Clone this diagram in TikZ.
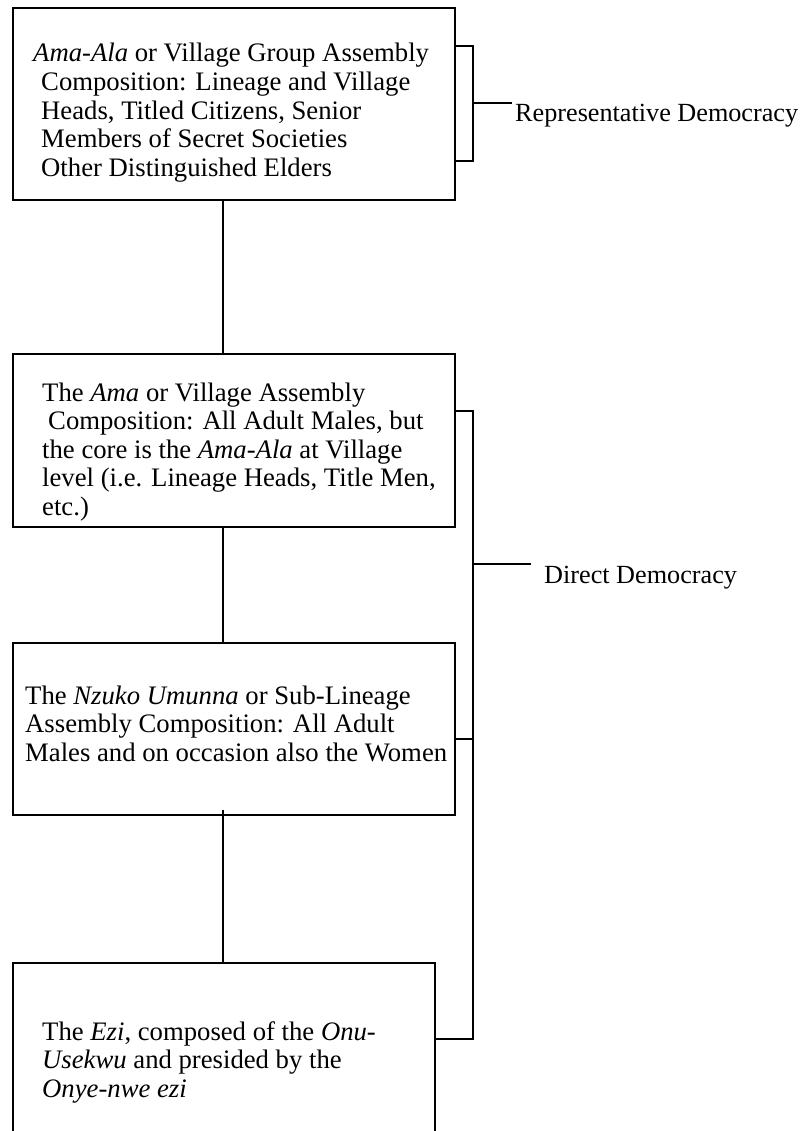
\documentclass[tikz,border=0pt]{standalone}
\usepackage{fontspec}
\setmainfont{Liberation Serif}
\usetikzlibrary{calc}
\begin{document}
\begin{tikzpicture}[x=1pt,y=-1pt,
  box/.style={draw, line width=1.6pt, rectangle, inner sep=0pt, anchor=north west},
  boxtext/.style={anchor=base west, align=left, inner sep=0pt, font=\fontsize{26.7}{28.6}\selectfont},
  sidelabel/.style={anchor=base west, inner sep=0pt, font=\fontsize{26.2}{28.6}\selectfont},
  link/.style={line width=1.5pt},
  brace/.style={line width=2.2pt}]
\clip (0,0) rectangle (809,1131);
\fill[white] (0,0) rectangle (809,1131);

% assembly boxes
\node[box, minimum width=442pt, minimum height=192pt] (b1) at (12,7) {};
\node[box, minimum width=442pt, minimum height=173pt] (b2) at (12,353) {};
\node[box, minimum width=442pt, minimum height=172pt] (b3) at (12,642) {};
\node[box, minimum width=422pt, minimum height=200pt] (b4) at (12,962) {};

% box texts (anchored on the baseline of their last line)
\node[boxtext] (t1) at (33,176.4) {\textit{Ama-Ala} or Village Group Assembly\\
  \hspace*{8pt}Composition: Lineage and Village\\
  \hspace*{8pt}Heads, Titled Citizens, Senior\\
  \hspace*{8pt}Members of Secret Societies\\
  \hspace*{8pt}Other Distinguished Elders};
\node[boxtext] (t2) at (42,515.4) {The \textit{Ama} or Village Assembly\\
  \hspace*{6pt}Composition: All Adult Males, but\\
  the core is the \textit{Ama-Ala} at Village\\
  level (i.e. Lineage Heads, Title Men,\\
  etc.)};
\node[boxtext] (t3) at (25,761.2) {The \textit{Nzuko Umunna} or Sub-Lineage\\
  Assembly Composition: All Adult\\
  Males and on occasion also the Women};
\node[boxtext] (t4) at (42,1097.2) {The \textit{Ezi}, composed of the \textit{Onu-}\\
  \textit{Usekwu} and presided by the\\
  \textit{Onye-nwe ezi}};

% side labels
\node[sidelabel] (rep) at (515,122) {Representative Democracy};
\node[sidelabel] (dir) at (544,583) {Direct Democracy};

% vertical links between the boxes
\draw[link] ($(b1.south west)+(211,0)$) -- ($(b2.north west)+(211,0)$);
\draw[link] ($(b2.south west)+(211,0)$) -- ($(b3.north west)+(211,0)$);
\draw[link] ($(b3.south west)+(211,-6)$) -- ($(b4.north west)+(211,0)$);

% bracket for the representative level
\coordinate (r top) at (473,46);
\coordinate (r bot) at (473,161);
\coordinate (r mid) at (473,103);
\draw[brace] (b1.east |- r top) -- (r top) -- (r bot) -- (b1.east |- r bot);
\draw[brace] (r mid) -- ($(rep.west |- r mid)+(-3,0)$);

% bracket for the direct levels
\coordinate (d top) at (473,411);
\coordinate (d bot) at (473,1039);
\coordinate (d mid) at (473,564);
\coordinate (d three) at (473,739);
\draw[brace] (b2.east |- d top) -- (d top) -- (d bot) -- (b4.east |- d bot);
\draw[brace] (b3.east |- d three) -- (d three);
\draw[brace] (d mid) -- ($(dir.west |- d mid)+(-13,0)$);
\end{tikzpicture}
\end{document}
